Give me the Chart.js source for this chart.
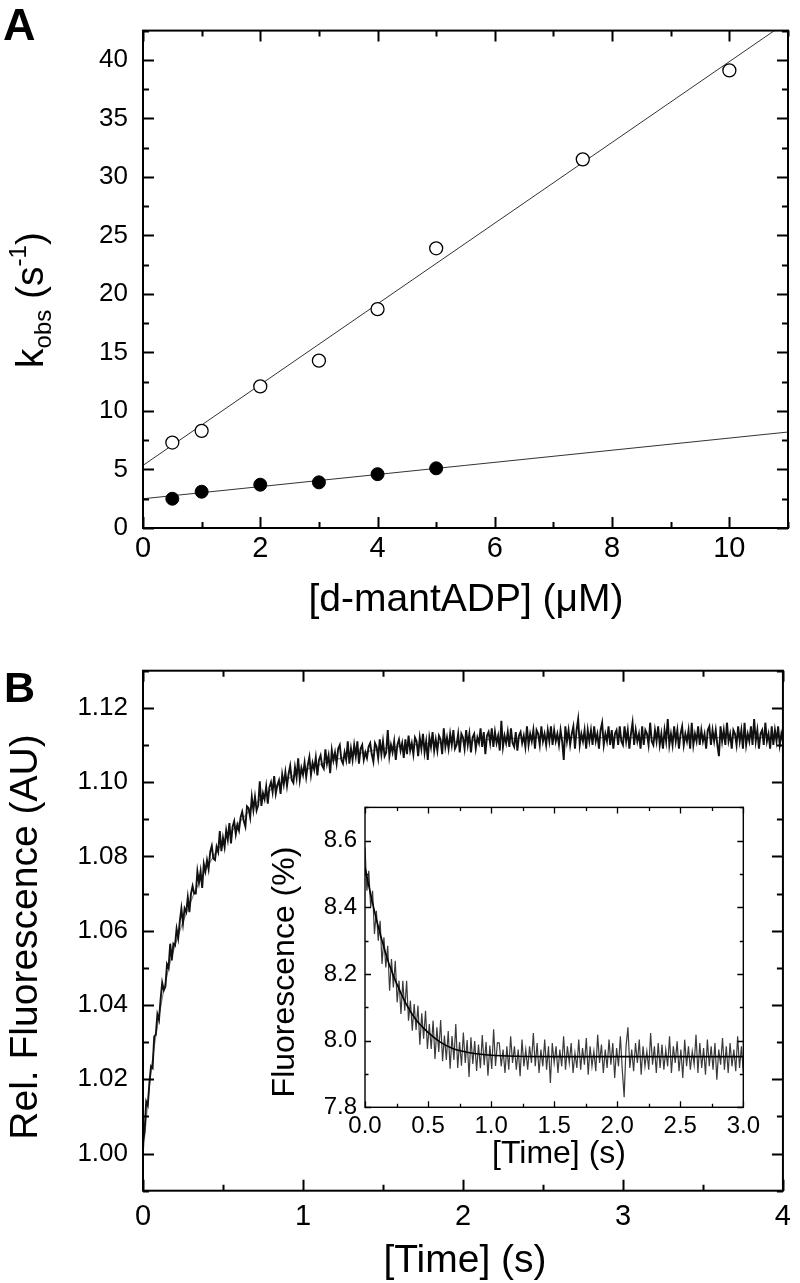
<!DOCTYPE html>
<html>
<head>
<meta charset="utf-8">
<script src="https://cdn.jsdelivr.net/npm/chart.js@4.4.0/dist/chart.umd.min.js"></script>
<style>
  html, body { margin: 0; padding: 0; background: #fff; }
  #page { position: relative; width: 800px; height: 1283px; overflow: hidden; background: #fff; }
  canvas { position: absolute; }
</style>
</head>
<body>
<div id="page">
  <canvas id="chartA" width="800" height="640" style="left:0;top:0"></canvas>
  <canvas id="chartB" width="800" height="643" style="left:0;top:640px"></canvas>
  <canvas id="chartInset" width="510" height="410" style="left:255px;top:785px"></canvas>
</div>
<script>
// panel A: k_obs vs [d-mantADP]
const concOpen = [0.5, 1, 2, 3, 4, 5, 7.5, 10]
const kOpen = [7.3, 8.3, 12.1, 14.3, 18.7, 23.9, 31.5, 39.1]
const concFilled = [0.5, 1, 2, 3, 4, 5]
const kFilled = [2.5, 3.1, 3.7, 3.9, 4.6, 5.1]
const fitOpenX = [0, 11]
const fitOpenY = [5.35, 43.3]
const fitFilledX = [0, 11]
const fitFilledY = [2.5, 8.2]
const xTicksA = [0, 2, 4, 6, 8, 10]
const yTicksA = [0, 5, 10, 15, 20, 25, 30, 35, 40]

// panel B: fluorescence trace, sampled every 0.01 s from 0 s
const traceBStart = 0
const traceBStep = 0.01
const traceB = [
  1.003, 1.006, 1.014, 1.013, 1.019, 1.0235, 1.023, 1.0315, 1.032, 1.0375,
  1.036, 1.0415, 1.046, 1.044, 1.045, 1.051, 1.050, 1.0565, 1.052, 1.0565,
  1.056, 1.0605, 1.058, 1.0625, 1.066, 1.062, 1.066, 1.065, 1.069, 1.065,
  1.070, 1.072, 1.070, 1.070, 1.076, 1.073, 1.076, 1.0715, 1.078, 1.076,
  1.079, 1.0766, 1.0812, 1.0828, 1.0794, 1.079, 1.0826, 1.0812, 1.0868, 1.0814,
  1.085, 1.0825, 1.087, 1.0845, 1.089, 1.0835, 1.088, 1.0895, 1.086, 1.0885,
  1.087, 1.0905, 1.092, 1.0895, 1.088, 1.0935, 1.093, 1.0905, 1.096, 1.0925,
  1.096, 1.0924, 1.0938, 1.1002, 1.0936, 1.097, 1.0954, 1.0988, 1.0942, 1.0986,
  1.100, 1.0973, 1.1016, 1.0969, 1.0992, 1.1005, 1.0968, 1.1021, 1.0994, 1.1027,
  1.099, 1.1022, 1.1044, 1.1006, 1.0998, 1.104, 1.1012, 1.1064, 1.1006, 1.1038,
  1.102, 1.1052, 1.1014, 1.1046, 1.1068, 1.102, 1.1052, 1.1034, 1.1066, 1.1018,
  1.106, 1.1072, 1.1044, 1.1036, 1.1088, 1.105, 1.1072, 1.1024, 1.1086, 1.1058,
  1.108, 1.105, 1.109, 1.110, 1.106, 1.105, 1.108, 1.106, 1.111, 1.105,
  1.109, 1.106, 1.110, 1.107, 1.111, 1.105, 1.109, 1.110, 1.106, 1.108,
  1.1065, 1.1095, 1.1105, 1.1075, 1.1055, 1.1105, 1.1095, 1.1065, 1.1115, 1.1075,
  1.111, 1.107, 1.108, 1.114, 1.107, 1.110, 1.108, 1.111, 1.106, 1.110,
  1.1115, 1.1085, 1.1105, 1.1065, 1.1115, 1.1075, 1.1125, 1.1085, 1.1105, 1.1075,
  1.112, 1.111, 1.107, 1.112, 1.109, 1.113, 1.108, 1.111, 1.106, 1.112,
  1.1095, 1.1135, 1.1085, 1.1115, 1.1085, 1.1125, 1.1115, 1.1075, 1.1145, 1.1095,
  1.112, 1.109, 1.113, 1.110, 1.114, 1.109, 1.110, 1.113, 1.108, 1.113,
  1.112, 1.109, 1.114, 1.110, 1.113, 1.108, 1.112, 1.113, 1.109, 1.112,
  1.1105, 1.1145, 1.1095, 1.1135, 1.1075, 1.1125, 1.1135, 1.1105, 1.1145, 1.1095,
  1.1135, 1.1105, 1.1125, 1.1085, 1.1165, 1.1095, 1.1125, 1.1105, 1.1135, 1.1095,
  1.1145, 1.1105, 1.1095, 1.1135, 1.1085, 1.1125, 1.1135, 1.1105, 1.1125, 1.1095,
  1.115, 1.110, 1.113, 1.111, 1.114, 1.109, 1.114, 1.113, 1.110, 1.115,
  1.111, 1.113, 1.110, 1.114, 1.111, 1.115, 1.110, 1.114, 1.111, 1.113,
  1.110, 1.114, 1.111, 1.106, 1.115, 1.111, 1.114, 1.110, 1.113, 1.115,
  1.109, 1.114, 1.117, 1.110, 1.113, 1.111, 1.114, 1.109, 1.114, 1.111,
  1.114, 1.110, 1.115, 1.111, 1.113, 1.109, 1.114, 1.116, 1.110, 1.113,
  1.111, 1.115, 1.110, 1.114, 1.109, 1.113, 1.114, 1.110, 1.115, 1.111,
  1.110, 1.115, 1.111, 1.114, 1.109, 1.113, 1.116, 1.110, 1.114, 1.111,
  1.113, 1.109, 1.115, 1.110, 1.114, 1.113, 1.110, 1.116, 1.111, 1.110,
  1.114, 1.111, 1.115, 1.110, 1.113, 1.109, 1.114, 1.111, 1.117, 1.110,
  1.113, 1.110, 1.115, 1.111, 1.114, 1.109, 1.113, 1.115, 1.110, 1.113,
  1.111, 1.114, 1.109, 1.116, 1.110, 1.113, 1.111, 1.115, 1.110, 1.114,
  1.111, 1.113, 1.109, 1.114, 1.115, 1.110, 1.114, 1.111, 1.114, 1.110,
  1.107, 1.115, 1.111, 1.114, 1.110, 1.116, 1.111, 1.113, 1.109, 1.114,
  1.113, 1.110, 1.115, 1.111, 1.114, 1.109, 1.116, 1.110, 1.113, 1.111,
  1.115, 1.110, 1.117, 1.111, 1.114, 1.109, 1.113, 1.114, 1.110, 1.116,
  1.111, 1.113, 1.109, 1.115, 1.110, 1.114, 1.111, 1.115, 1.110, 1.113,
  1.111
]
const fitBTime = [0, 0.05, 0.1, 0.15, 0.2, 0.3, 0.4, 0.5, 0.6, 0.7, 0.8, 1.0, 1.2, 1.5, 2.0, 2.5, 3.0, 4.0]
const fitBValue = [1.000, 1.022, 1.037, 1.048, 1.056, 1.068, 1.077, 1.084, 1.089, 1.094, 1.098, 1.103, 1.106, 1.109, 1.111, 1.112, 1.112, 1.112]
const xTicksB = [0, 1, 2, 3, 4]
const yTicksB = [1.00, 1.02, 1.04, 1.06, 1.08, 1.10, 1.12]

// inset: sampled every 0.015 s from 0 s
const traceInsetStart = 0
const traceInsetStep = 0.015
const traceInset = [
  8.58, 8.45, 8.51, 8.40, 8.45, 8.32, 8.39, 8.30, 8.36, 8.23,
  8.31, 8.22, 8.285, 8.15, 8.245, 8.16, 8.24, 8.115, 8.18, 8.08,
  8.18, 8.09, 8.18, 8.06, 8.12, 8.03, 8.11, 8.032, 8.105, 7.988,
  8.082, 8.006, 8.09, 7.975, 8.05, 7.975, 8.06, 7.945, 8.04, 7.966,
  8.062, 7.938, 8.015, 7.942, 8.029, 7.916, 8.014, 7.942, 8.05, 7.918,
  7.996, 7.925, 8.024, 7.933, 8.002, 7.891, 8.01, 7.93, 7.999, 7.909,
  7.988, 7.917, 8.017, 7.926, 7.996, 7.895, 7.985, 7.915, 8.034, 7.924, 7.994,
  7.993, 7.923, 7.973, 7.903, 7.983, 7.913, 8.013, 7.933, 7.983, 7.913,
  7.973, 7.893, 8.003, 7.923, 7.973, 7.913, 7.983, 7.933, 8.023, 7.923,
  7.993, 7.903, 7.973, 7.923, 8.003, 7.913, 7.983, 7.873, 7.993, 7.933,
  7.983, 7.903, 7.973, 7.923, 8.013, 7.913, 7.983, 7.933, 7.993, 7.903,
  7.963, 7.918, 8.003,
  7.913, 7.978, 7.928, 8.008, 7.898, 7.983, 7.923, 7.968, 7.908, 8.018,
  7.933, 7.988, 7.903, 7.973, 7.918, 8.003, 7.928, 7.993, 7.888, 7.978,
  7.923, 8.013, 7.913, 7.830, 7.983, 8.040, 7.918, 7.973, 7.908, 7.993,
  7.933, 8.003, 7.898, 7.983, 7.923, 7.968, 7.913, 8.023, 7.928, 7.983,
  7.903, 7.993, 7.918,
  7.988, 7.913, 7.973, 7.923, 8.013, 7.903, 7.983, 7.933, 7.998, 7.908,
  7.973, 7.888, 8.003, 7.923, 7.983, 7.913, 7.968, 7.928, 8.018, 7.903,
  7.993, 7.918, 7.978, 7.898, 8.003, 7.923, 7.983, 7.913, 7.993, 7.883,
  7.973, 7.928, 8.008, 7.913, 7.983, 7.903, 7.993, 7.923, 7.973, 7.908,
  8.013, 7.918, 7.983, 7.903
]
const fitInsetTime = [0, 0.05, 0.1, 0.15, 0.2, 0.3, 0.4, 0.5, 0.6, 0.7, 0.8, 0.9, 1.0, 1.2, 1.5, 2.0, 3.0]
const fitInsetValue = [8.52, 8.43, 8.35, 8.28, 8.22, 8.13, 8.065, 8.025, 7.995, 7.976, 7.966, 7.960, 7.956, 7.953, 7.952, 7.952, 7.952]
const xTicksInset = [0, 0.5, 1.0, 1.5, 2.0, 2.5, 3.0]
const yTicksInset = [7.8, 8.0, 8.2, 8.4, 8.6]

const FONT = "'Liberation Sans', Arial, Helvetica, sans-serif"
Chart.defaults.font.family = FONT
Chart.defaults.color = '#000'

const pts = (xs, ys) => xs.map((x, i) => ({x: x, y: ys[i]}))
const sampled = (start, step, ys) => ys.map((y, i) => ({x: start + i * step, y: y}))

// boxed frame with inward ticks on all four sides (Origin style)
function frameTicks(o) {
  return {
    id: 'frameTicks',
    afterDraw(chart) {
      const ctx = chart.ctx
      const a = chart.chartArea
      const xs = chart.scales.x
      const ys = chart.scales.y
      const isMajor = (scale, v) => scale.ticks.some(t => Math.abs(t.value - v) < 1e-6)
      ctx.save()
      ctx.strokeStyle = '#000'
      ctx.lineWidth = o.tickWidth
      ctx.beginPath()
      for (let v = xs.min; v <= xs.max + 1e-9; v += o.xMinor) {
        const len = isMajor(xs, v) ? o.major : o.minor
        const px = Math.round(xs.getPixelForValue(v)) + 0.5
        ctx.moveTo(px, a.bottom); ctx.lineTo(px, a.bottom - len)
        ctx.moveTo(px, a.top); ctx.lineTo(px, a.top + len)
      }
      const y0 = Math.ceil(ys.min / o.yMinor - 1e-6) * o.yMinor
      for (let v = y0; v <= ys.max + 1e-9; v += o.yMinor) {
        const len = isMajor(ys, v) ? o.major : o.minor
        const py = Math.round(ys.getPixelForValue(v)) + 0.5
        ctx.moveTo(a.left, py); ctx.lineTo(a.left + len, py)
        ctx.moveTo(a.right, py); ctx.lineTo(a.right - len, py)
      }
      ctx.stroke()
      ctx.lineWidth = o.frameWidth
      ctx.strokeRect(a.left, a.top, a.right - a.left, a.bottom - a.top)
      ctx.restore()
    }
  }
}

// axis titles and panel letters with sub/superscripts
function drawRich(ctx, it) {
  ctx.save()
  ctx.translate(it.x, it.y)
  if (it.rotate) ctx.rotate(-Math.PI / 2)
  ctx.fillStyle = '#000'
  ctx.textBaseline = 'alphabetic'
  const fontOf = p => (p.bold ? 'bold ' : '') + p.size + 'px ' + FONT
  let total = 0
  it.parts.forEach(p => { ctx.font = fontOf(p); total += ctx.measureText(p.text).width })
  let cx = it.align === 'center' ? -total / 2 : 0
  it.parts.forEach(p => {
    ctx.font = fontOf(p)
    ctx.fillText(p.text, cx, p.shift || 0)
    cx += ctx.measureText(p.text).width
  })
  ctx.restore()
}
function titles(items) {
  return { id: 'richTitles', afterDraw(chart) { items.forEach(it => drawRich(chart.ctx, it)) } }
}

function axis(min, max, tickValues, fontSize, padding, fmt, fitSize, horizontal) {
  return {
    type: 'linear',
    min: min,
    max: max,
    grid: { display: false, drawTicks: false },
    border: { display: false },
    afterBuildTicks: s => { s.ticks = tickValues.map(v => ({value: v})) },
    afterFit: s => { if (horizontal) s.height = fitSize; else s.width = fitSize },
    ticks: { font: { size: fontSize }, color: '#000', padding: padding, maxRotation: 0, autoSkip: false, callback: fmt }
  }
}

const baseOptions = {
  responsive: false,
  devicePixelRatio: 1,
  animation: false,
  events: [],
  plugins: { legend: { display: false }, tooltip: { enabled: false } }
}

// ---------- panel A ----------
new Chart(document.getElementById('chartA'), {
  type: 'scatter',
  data: {
    datasets: [
      { data: pts(concOpen, kOpen), pointRadius: 6.5, pointBorderWidth: 1.3, pointBorderColor: '#000', pointBackgroundColor: '#fff' },
      { data: pts(concFilled, kFilled), pointRadius: 6.5, pointBorderWidth: 1, pointBorderColor: '#000', pointBackgroundColor: '#000' },
      { data: pts(fitOpenX, fitOpenY), showLine: true, borderColor: '#333', borderWidth: 1, pointRadius: 0 },
      { data: pts(fitFilledX, fitFilledY), showLine: true, borderColor: '#333', borderWidth: 1, pointRadius: 0 }
    ]
  },
  options: Object.assign({}, baseOptions, {
    layout: { padding: { left: 0, top: 6, right: 12, bottom: 0 } },
    scales: {
      x: axis(0, 11, xTicksA, 29, 4, v => String(v), 112, true),
      y: axis(0, 42.5, yTicksA, 26, 15, v => String(v), 143, false)
    }
  }),
  plugins: [
    frameTicks({ xMinor: 1, yMinor: 2.5, major: 11, minor: 6, tickWidth: 2, frameWidth: 2 }),
    titles([
      { x: 3, y: 40, parts: [{ text: 'A', size: 45, bold: true }] },
      { x: 466, y: 611, align: 'center', parts: [{ text: '[d-mantADP] (\u03bcM)', size: 39 }] },
      { x: 43, y: 300, rotate: true, align: 'center', parts: [
        { text: 'k', size: 39 }, { text: 'obs', size: 24, shift: 8 },
        { text: ' (s', size: 39 }, { text: '-1', size: 24, shift: -17 }, { text: ')', size: 39 }
      ] }
    ])
  ]
})

// ---------- panel B ----------
new Chart(document.getElementById('chartB'), {
  type: 'scatter',
  data: {
    datasets: [
      { data: sampled(traceBStart, traceBStep, traceB), showLine: true, borderColor: '#111', borderWidth: 1.9, pointRadius: 0 },
      { data: pts(fitBTime, fitBValue), showLine: true, borderColor: '#8a8a8a', borderWidth: 1.2, pointRadius: 0, cubicInterpolationMode: 'monotone' }
    ]
  },
  options: Object.assign({}, baseOptions, {
    layout: { padding: { left: 0, top: 30.7, right: 12, bottom: 0 } },
    scales: {
      x: axis(0, 4, xTicksB, 29, 9, v => String(v), 92.3, true),
      y: axis(0.99, 1.13, yTicksB, 26, 15, v => v.toFixed(2), 143, false)
    }
  }),
  plugins: [
    frameTicks({ xMinor: 0.5, yMinor: 0.01, major: 11, minor: 6, tickWidth: 2, frameWidth: 2 }),
    titles([
      { x: 4, y: 62, parts: [{ text: 'B', size: 43, bold: true }] },
      { x: 465, y: 632, align: 'center', parts: [{ text: '[Time] (s)', size: 39 }] },
      { x: 37, y: 297, rotate: true, align: 'center', parts: [{ text: 'Rel. Fluorescence (AU)', size: 39 }] }
    ])
  ]
})

// ---------- inset ----------
new Chart(document.getElementById('chartInset'), {
  type: 'scatter',
  data: {
    datasets: [
      { data: pts(fitInsetTime, fitInsetValue), showLine: true, borderColor: '#000', borderWidth: 1.6, pointRadius: 0, cubicInterpolationMode: 'monotone' },
      { data: sampled(traceInsetStart, traceInsetStep, traceInset), showLine: true, borderColor: '#3a3a3a', borderWidth: 1.2, pointRadius: 0 }
    ]
  },
  options: Object.assign({}, baseOptions, {
    layout: { padding: { left: 0, top: 10, right: 13.3, bottom: 0 } },
    scales: {
      x: axis(0, 3, xTicksInset, 24, 5, v => v.toFixed(1), 87.7, true),
      y: axis(7.8, 8.7, yTicksInset, 24, 8, v => v.toFixed(1), 110, false)
    }
  }),
  plugins: [
    frameTicks({ xMinor: 0.25, yMinor: 0.1, major: 6, minor: 3.5, tickWidth: 1.3, frameWidth: 1.4 }),
    titles([
      { x: 304, y: 378, align: 'center', parts: [{ text: '[Time] (s)', size: 32 }] },
      { x: 39, y: 187, rotate: true, align: 'center', parts: [{ text: 'Fluorescence (%)', size: 32 }] }
    ])
  ]
})
</script>
</body>
</html>
